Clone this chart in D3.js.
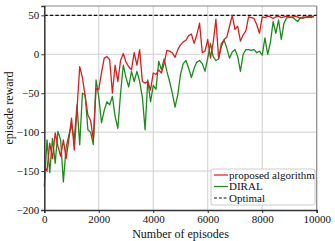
<!DOCTYPE html>
<html>
<head>
<meta charset="utf-8">
<script src="https://cdn.jsdelivr.net/npm/d3@7"></script>
<style>
  html, body { margin: 0; padding: 0; background: #fff; }
  svg text { font-family: "Liberation Serif", "DejaVu Serif", serif; }
</style>
</head>
<body>
<svg id="chart" width="335" height="241"></svg>
<script>
// episodes sampled every 100
const episodes = [
  0, 100, 200, 300, 400, 500, 600, 700, 800, 900,
  1000, 1100, 1200, 1300, 1400, 1500, 1600, 1700, 1800, 1900,
  2000, 2100, 2200, 2300, 2400, 2500, 2600, 2700, 2800, 2900,
  3000, 3100, 3200, 3300, 3400, 3500, 3600, 3700, 3800, 3900,
  4000, 4100, 4200, 4300, 4400, 4500, 4600, 4700, 4800, 4900,
  5000, 5100, 5200, 5300, 5400, 5500, 5600, 5700, 5800, 5900,
  6000, 6100, 6200, 6300, 6400, 6500, 6600, 6700, 6800, 6900,
  7000, 7100, 7200, 7300, 7400, 7500, 7600, 7700, 7800, 7900,
  8000, 8100, 8200, 8300, 8400, 8500, 8600, 8700, 8800, 8900,
  9000, 9100, 9200, 9300, 9400, 9500, 9600, 9700, 9800, 9900
];

const proposed = [
  -144, -150, -114, -134, -101, -118, -131, -110, -134, -110,
  -82, -123, -71, -16, -30, -54, -78, -85, -110, -44,
  -45, -24, -5, -3, -7, -50, -14, -35, -8, 1,
  -10, -16, -20, 2, -14, 6, -35, -37, -35, -46,
  -24, -26, -20, -24, -12, 5, 4, 2, -4, 6,
  12, 16, 18, 24, 26, 14, 25, 40, 2, 4,
  19, -5, 15, 45, -5, 10, 19, 22, 36, 50,
  32, 36, 17, 25, 30, 48, 47, 46, 38, 27,
  48, 47, 49, 48, 46, 48, 49, 47, 48, 49,
  48, 47, 49, 48, 46, 48, 47, 49, 47, 49
];

const diral = [
  -170, -110, -152, -108, -140, -99, -110, -164, -120, -104,
  -91, -110, -65, -116, -50, -52, -97, -100, -116, -33,
  -55, -88, -72, -61, -65, -54, -80, -95, -50, -14,
  -30, -42, -22, -35, -22, -35, -55, -97, -33, -61,
  -40, -45, -9, -20, -6, -22, -35, -50, -68, -52,
  -26, -12, -8, -18, -30, -18, -10, -8, -12, -22,
  -5, 14, -3, -8, -6, 14, 18, 8, -5, 3,
  6, -3, -22, 0, 6, 6, 5, 6, 2, 4,
  -1, 21, 0, 15, 42, 27, 44, 19, 40, 47,
  47, 48, 45, 42, 47, 46, 48, 47, 49, 48
];

const optimal = 50;
const xTicks = [0, 2000, 4000, 6000, 8000, 10000];
const yTicks = [-200, -150, -100, -50, 0, 50];
const legendLabels = ["proposed algorithm", "DIRAL", "Optimal"];

const W = 335, H = 241;
const m = { left: 44.3, right: 18.3, top: 6, bottom: 31 };
const FONT = "'Liberation Serif', 'DejaVu Serif', serif";

const svg = d3.select("#chart");

const x = d3.scaleLinear().domain([0, 10000]).range([m.left, W - m.right]);
const y = d3.scaleLinear().domain([-200, 62]).range([H - m.bottom, m.top]);

// grid
svg.append("g")
  .selectAll("line")
  .data(xTicks.slice(1, -1))
  .join("line")
  .attr("x1", d => x(d)).attr("x2", d => x(d))
  .attr("y1", m.top).attr("y2", H - m.bottom)
  .attr("stroke", "#cfcfcf").attr("stroke-width", 1);

svg.append("g")
  .selectAll("line")
  .data(yTicks.slice(1))
  .join("line")
  .attr("x1", m.left).attr("x2", W - m.right)
  .attr("y1", d => y(d)).attr("y2", d => y(d))
  .attr("stroke", "#cfcfcf").attr("stroke-width", 1);

// frame (top/right lighter)
svg.append("line")
  .attr("x1", m.left).attr("x2", W - m.right)
  .attr("y1", m.top).attr("y2", m.top)
  .attr("stroke", "#888").attr("stroke-width", 1.2);
svg.append("line")
  .attr("x1", W - m.right).attr("x2", W - m.right)
  .attr("y1", m.top).attr("y2", H - m.bottom)
  .attr("stroke", "#888").attr("stroke-width", 1.2);

// lines
const line = d3.line()
  .x((d, i) => x(episodes[i]))
  .y(d => y(d));

svg.append("line")
  .attr("x1", m.left).attr("x2", W - m.right)
  .attr("y1", y(optimal)).attr("y2", y(optimal))
  .attr("stroke", "#111").attr("stroke-width", 1.2)
  .attr("stroke-dasharray", "3.5,2");

svg.append("path")
  .datum(diral)
  .attr("d", line)
  .attr("fill", "none")
  .attr("stroke", "#1e8a1e")
  .attr("stroke-width", 1.3)
  .attr("stroke-linejoin", "round");

svg.append("path")
  .datum(proposed)
  .attr("d", line)
  .attr("fill", "none")
  .attr("stroke", "#d42020")
  .attr("stroke-width", 1.3)
  .attr("stroke-linejoin", "round");

// axes
const xAxis = svg.append("g")
  .attr("transform", `translate(0,${H - m.bottom})`)
  .call(d3.axisBottom(x).tickValues(xTicks).tickSize(3).tickPadding(2).tickFormat(d3.format("d")));
const yAxis = svg.append("g")
  .attr("transform", `translate(${m.left},0)`)
  .call(d3.axisLeft(y).tickValues(yTicks).tickSize(3).tickPadding(2).tickFormat(d => d < 0 ? "\u2212" + Math.abs(d) : d));

[xAxis, yAxis].forEach(a => {
  a.attr("font-family", FONT).attr("font-size", 11);
  a.select(".domain").attr("stroke", "#333").attr("stroke-width", 1.5);
  a.selectAll(".tick line").attr("stroke", "#333");
  a.selectAll(".tick text").attr("fill", "#111");
});

// axis titles
svg.append("text")
  .attr("x", (m.left + W - m.right) / 2)
  .attr("y", 238)
  .attr("text-anchor", "middle")
  .attr("font-family", FONT)
  .attr("font-size", 12)
  .attr("fill", "#111")
  .text("Number of episodes");

svg.append("text")
  .attr("transform", `translate(13,${(m.top + H - m.bottom) / 2}) rotate(-90)`)
  .attr("text-anchor", "middle")
  .attr("font-family", FONT)
  .attr("font-size", 12)
  .attr("fill", "#111")
  .text("episode reward");

// legend
const lg = svg.append("g").attr("transform", "translate(211,169)");
lg.append("rect")
  .attr("width", 104).attr("height", 36).attr("rx", 2)
  .attr("fill", "#fff").attr("fill-opacity", 0.85)
  .attr("stroke", "#ccc");

const legendStyles = [
  { color: "#d42020", dash: null },
  { color: "#1e8a1e", dash: null },
  { color: "#111", dash: "3,1.8" }
];

legendLabels.forEach((label, i) => {
  const ly = 6 + i * 11.5;
  lg.append("line")
    .attr("x1", 3).attr("x2", 17)
    .attr("y1", ly).attr("y2", ly)
    .attr("stroke", legendStyles[i].color)
    .attr("stroke-width", 1.2)
    .attr("stroke-dasharray", legendStyles[i].dash);
  lg.append("text")
    .attr("x", 18).attr("y", ly + 3.8)
    .attr("font-family", FONT)
    .attr("font-size", 11)
    .attr("fill", "#111")
    .text(label);
});
</script>
</body>
</html>
